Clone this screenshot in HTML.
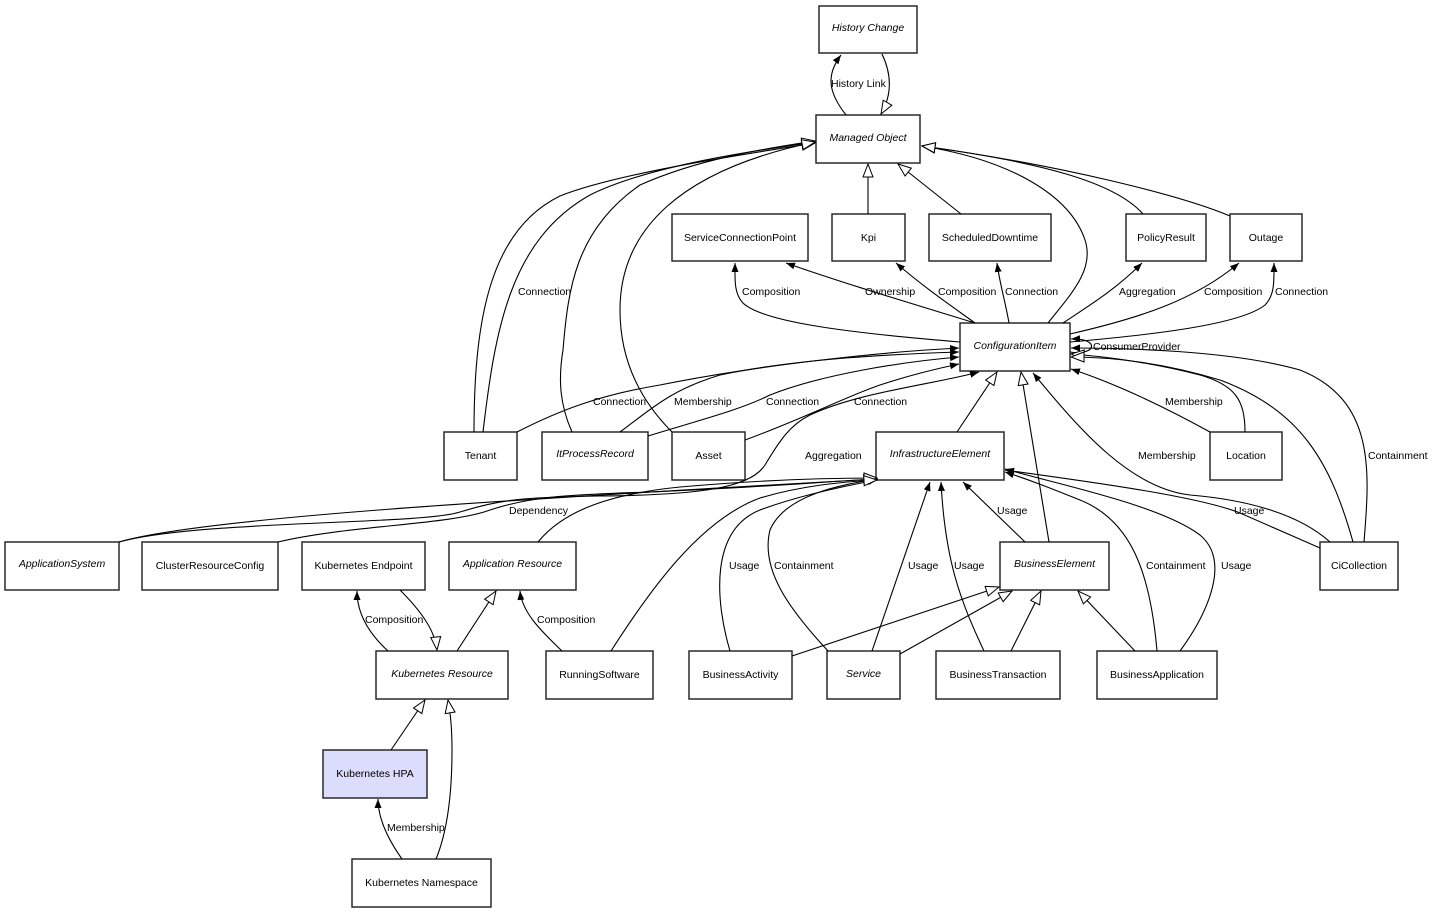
<!DOCTYPE html>
<html><head><meta charset="utf-8"><style>
html,body{margin:0;padding:0;background:#fff;}
svg{display:block;}
text{font-family:"Liberation Sans",Arial,sans-serif;font-size:10.5px;fill:#000;}
.i{font-style:italic;}
.b{fill:#fff;stroke:#2a2a2a;stroke-width:1.5;}
.e{fill:none;stroke:#000;stroke-width:1.1;}
.f{marker-end:url(#f);}
.h{marker-end:url(#h);}
</style></head><body>
<svg width="1434" height="913" viewBox="0 0 1434 913" xmlns="http://www.w3.org/2000/svg">
<defs>
<marker id="f" viewBox="0 0 9 7" refX="9" refY="3.5" markerWidth="9" markerHeight="7" orient="auto" markerUnits="userSpaceOnUse"><path d="M0,0L9,3.5L0,7z" fill="#000"/></marker>
<marker id="h" viewBox="-1 -1 15 12" refX="13" refY="5" markerWidth="15" markerHeight="12" orient="auto" markerUnits="userSpaceOnUse"><path d="M0,0L13,5L0,10z" fill="#fff" stroke="#000" stroke-width="1"/></marker>
</defs>
<rect width="1434" height="913" fill="#fff"/>

<!-- boxes -->
<rect class="b" x="819" y="6" width="98" height="47"/>
<rect class="b" x="816" y="115" width="104" height="48"/>
<rect class="b" x="672" y="214" width="136" height="47"/>
<rect class="b" x="832" y="214" width="73" height="47"/>
<rect class="b" x="929" y="214" width="122" height="47"/>
<rect class="b" x="1126" y="214" width="80" height="47"/>
<rect class="b" x="1230" y="214" width="72" height="47"/>
<rect class="b" x="960" y="323" width="110" height="48"/>
<rect class="b" x="444" y="432" width="73" height="48"/>
<rect class="b" x="542" y="432" width="106" height="48"/>
<rect class="b" x="672" y="432" width="73" height="48"/>
<rect class="b" x="876" y="432" width="128" height="48"/>
<rect class="b" x="1210" y="432" width="72" height="48"/>
<rect class="b" x="5" y="542" width="114" height="48"/>
<rect class="b" x="142" y="542" width="136" height="48"/>
<rect class="b" x="302" y="542" width="123" height="48"/>
<rect class="b" x="449" y="542" width="127" height="48"/>
<rect class="b" x="1000" y="542" width="109" height="48"/>
<rect class="b" x="1320" y="542" width="78" height="48"/>
<rect class="b" x="376" y="651" width="132" height="48"/>
<rect class="b" x="546" y="651" width="107" height="48"/>
<rect class="b" x="689" y="651" width="103" height="48"/>
<rect class="b" x="827" y="651" width="73" height="48"/>
<rect class="b" x="936" y="651" width="124" height="48"/>
<rect class="b" x="1097" y="651" width="120" height="48"/>
<rect class="b" x="323" y="750" width="104" height="48" style="fill:#dcdcfc"/>
<rect class="b" x="352" y="859" width="139" height="48"/>

<!-- edges -->
<path class="e f" d="M846,115 C828,92 826,75 841,55"/>
<path class="e h" d="M882,54 C892,75 892,95 881,114"/>
<path class="e h" d="M474,432 C474,320 490,230 560,196 C620,172 760,152 815,143"/>
<path class="e h" d="M483,432 C495,330 510,240 590,195 C650,165 760,150 815,142"/>
<path class="e h" d="M572,432 C560,405 558,380 563,350 C568,290 575,230 640,185 C700,158 770,148 815,141"/>
<path class="e h" d="M672,432 C640,400 620,360 620,310 C620,230 680,170 815,142"/>
<path class="e h" d="M1048,323 C1070,295 1095,270 1085,240 C1070,195 1010,160 922,146"/>
<path class="e h" d="M1143,214 C1115,182 1040,162 922,146"/>
<path class="e h" d="M1230,216 C1180,195 1060,165 922,146"/>
<path class="e h" d="M868,214 L868,164"/>
<path class="e h" d="M961,214 L898,164"/>

<path class="e f" d="M960,342 C850,333 760,322 742,302 C734,292 735,280 735,263"/>
<path class="e f" d="M975,323 C900,300 840,282 786,263"/>
<path class="e f" d="M975,323 C950,305 925,288 896,263"/>
<path class="e f" d="M1009,323 C1005,300 1000,285 997,263"/>
<path class="e f" d="M1063,323 C1090,305 1115,290 1142,263"/>
<path class="e f" d="M1070,334 C1140,318 1195,300 1239,263"/>
<path class="e f" d="M1070,342 C1150,335 1240,325 1265,305 C1275,295 1274,280 1274,263"/>
<path class="e f" d="M1070,352 C1097,356 1100,338 1071,339"/>

<path class="e f" d="M517,432 C560,410 600,395 660,385 C760,365 880,352 959,348"/>
<path class="e f" d="M620,432 C650,410 670,390 720,375 C800,358 900,354 959,352"/>
<path class="e f" d="M648,436 C700,420 740,410 770,395 C820,375 900,362 959,357"/>
<path class="e f" d="M745,440 C800,420 850,395 880,385 C910,375 940,368 959,364"/>
<path class="e f" d="M119,542 C200,520 420,525 460,512 C500,500 520,497 600,496 C700,495 750,488 765,465 C780,440 790,425 810,415 C860,392 930,385 979,372"/>
<path class="e h" d="M957,432 L997,372"/>
<path class="e h" d="M1049,542 L1021,372"/>
<path class="e h" d="M1245,432 C1245,400 1235,385 1200,375 C1150,362 1100,356 1071,354"/>
<path class="e f" d="M1210,432 C1170,410 1120,385 1071,369"/>
<path class="e h" d="M1353,542 C1330,460 1300,410 1220,380 C1160,362 1110,357 1071,357"/>
<path class="e f" d="M1364,542 C1370,470 1375,400 1300,370 C1230,350 1120,348 1071,348"/>
<path class="e f" d="M1330,542 C1300,515 1250,500 1190,495 C1130,488 1080,430 1033,373"/>

<path class="e f" d="M1320,548 C1290,535 1260,522 1240,513 C1200,497 1100,483 1005,470"/>
<path class="e f" d="M1157,651 C1150,570 1130,520 1080,500 C1050,488 1030,480 1005,472"/>
<path class="e f" d="M1180,651 C1210,610 1230,560 1200,535 C1160,505 1060,485 1005,469"/>
<path class="e f" d="M1025,542 L963,482"/>
<path class="e f" d="M872,651 L930,482"/>
<path class="e f" d="M984,651 C960,600 945,560 941,482"/>
<path class="e f" d="M730,651 C715,600 710,530 760,510 C800,495 850,485 877,480"/>
<path class="e f" d="M828,651 C790,610 760,570 770,530 C785,495 840,485 877,479"/>
<path class="e h" d="M792,656 L999,587"/>
<path class="e h" d="M900,654 L1012,591"/>
<path class="e h" d="M1011,651 L1041,591"/>
<path class="e h" d="M1135,651 L1078,591"/>
<path class="e h" d="M119,542 C200,518 500,500 877,479"/>
<path class="e h" d="M278,542 C350,525 450,525 490,510 C530,497 560,495 650,492 C750,488 820,482 877,479"/>
<path class="e h" d="M538,542 C560,515 600,495 680,487 C760,480 830,478 877,478"/>
<path class="e h" d="M611,651 C650,590 700,520 760,498 C800,486 840,482 877,480"/>

<path class="e f" d="M388,651 C365,630 357,610 357,591"/>
<path class="e h" d="M400,590 C420,610 435,630 437,650"/>
<path class="e h" d="M457,651 L496,591"/>
<path class="e f" d="M562,651 C540,630 522,612 520,591"/>
<path class="e h" d="M391,750 L425,700"/>
<path class="e h" d="M436,859 C448,830 452,790 452,750 C452,725 450,712 448,700"/>
<path class="e f" d="M402,859 C385,835 378,815 378,799"/>

<!-- node labels -->
<g text-anchor="middle">
<text class="i" x="868" y="31">History Change</text>
<text class="i" x="868" y="141">Managed Object</text>
<text x="740" y="241">ServiceConnectionPoint</text>
<text x="868.5" y="241">Kpi</text>
<text x="990" y="241">ScheduledDowntime</text>
<text x="1166" y="241">PolicyResult</text>
<text x="1266" y="241">Outage</text>
<text class="i" x="1015" y="349">ConfigurationItem</text>
<text x="480.5" y="459">Tenant</text>
<text class="i" x="595" y="457">ItProcessRecord</text>
<text x="708.5" y="459">Asset</text>
<text class="i" x="940" y="457">InfrastructureElement</text>
<text x="1246" y="459">Location</text>
<text class="i" x="62" y="567">ApplicationSystem</text>
<text x="210" y="569">ClusterResourceConfig</text>
<text x="363.5" y="569">Kubernetes Endpoint</text>
<text class="i" x="512.5" y="567">Application Resource</text>
<text class="i" x="1054.5" y="567">BusinessElement</text>
<text x="1359" y="569">CiCollection</text>
<text class="i" x="442" y="677">Kubernetes Resource</text>
<text x="599.5" y="678">RunningSoftware</text>
<text x="740.5" y="678">BusinessActivity</text>
<text class="i" x="863.5" y="677">Service</text>
<text x="998" y="678">BusinessTransaction</text>
<text x="1157" y="678">BusinessApplication</text>
<text x="375" y="777">Kubernetes HPA</text>
<text x="421.5" y="886">Kubernetes Namespace</text>
</g>

<!-- edge labels -->
<text x="831" y="87">History Link</text>
<text x="518" y="295">Connection</text>
<text x="742" y="295">Composition</text>
<text x="865" y="295">Ownership</text>
<text x="938" y="295">Composition</text>
<text x="1005" y="295">Connection</text>
<text x="1119" y="295">Aggregation</text>
<text x="1204" y="295">Composition</text>
<text x="1275" y="295">Connection</text>
<text x="1093" y="350">ConsumerProvider</text>
<text x="593" y="405">Connection</text>
<text x="674" y="405">Membership</text>
<text x="766" y="405">Connection</text>
<text x="854" y="405">Connection</text>
<text x="1165" y="405">Membership</text>
<text x="805" y="459">Aggregation</text>
<text x="1138" y="459">Membership</text>
<text x="1368" y="459">Containment</text>
<text x="509" y="514">Dependency</text>
<text x="997" y="514">Usage</text>
<text x="1234" y="514">Usage</text>
<text x="729" y="569">Usage</text>
<text x="774" y="569">Containment</text>
<text x="908" y="569">Usage</text>
<text x="954" y="569">Usage</text>
<text x="1146" y="569">Containment</text>
<text x="1221" y="569">Usage</text>
<text x="365" y="623">Composition</text>
<text x="537" y="623">Composition</text>
<text x="387" y="831">Membership</text>
</svg>
</body></html>
